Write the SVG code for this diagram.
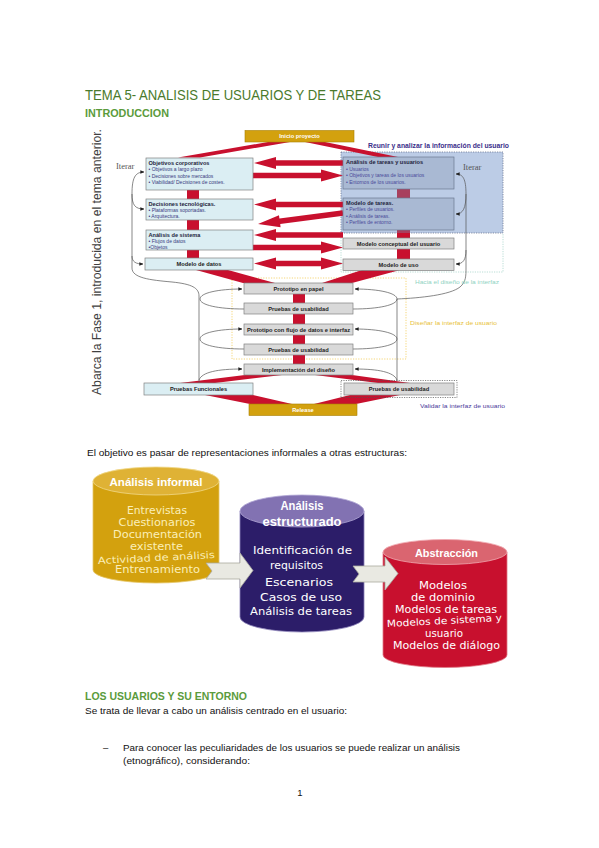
<svg xmlns="http://www.w3.org/2000/svg" width="599" height="848" viewBox="0 0 599 848">
<defs>
<style>
.pg{font-family:"Liberation Sans",Arial,sans-serif;fill:#111;font-size:9.5px}
.h1{font-family:"Liberation Sans",Arial,sans-serif;font-size:15.5px;fill:#4a7a2c}
.h2{font-family:"Liberation Sans",Arial,sans-serif;font-weight:bold;fill:#5b9b3c}
.bx{stroke:#808080;stroke-width:0.7}
.lb{fill:#dbeef3}
.gr{fill:#d9d9d9}
.rb{fill:#a9b9d3;stroke:#6c7890;stroke-width:0.7}
.gd{fill:#d3a10e;stroke:#a87f00;stroke-width:0.6}
.t{font-family:"Liberation Sans",Arial,sans-serif;font-size:5.6px}
.th{font-weight:bold;fill:#1e1e3c}
.tb{fill:#3a3a80;font-size:5px}
.tr{fill:#4a4a9a;font-size:5px}
.tc{font-weight:bold;fill:#222;text-anchor:middle;font-size:5.7px}
.tw{font-weight:bold;fill:#fff;text-anchor:middle;font-size:5.7px}
.red{fill:#c8102e}
.cv{fill:none;stroke:#555;stroke-width:0.7}
.cy{font-family:"DejaVu Sans",Verdana,sans-serif;text-anchor:middle}
.ct{font-family:"Liberation Sans",Arial,sans-serif;font-weight:bold;fill:#fff;text-anchor:middle}
.sm{font-family:"Liberation Sans",Arial,sans-serif;font-size:6px}
.it{font-family:"Liberation Serif","Times New Roman",serif;font-size:8.5px;fill:#555}
.blk{fill:#e9e9e2;stroke:#aaa9a0;stroke-width:0.8}
</style>
<marker id="ah" viewBox="0 0 6 6" refX="5.5" refY="3" markerWidth="4" markerHeight="4" markerUnits="userSpaceOnUse" orient="auto"><path d="M0,0.5 L6,3 L0,5.5 z" fill="#222"/></marker>
</defs>
<rect x="0" y="0" width="599" height="848" fill="#fff"/>

<!-- page headings -->
<text class="h1" x="85" y="100" textLength="296" lengthAdjust="spacingAndGlyphs">TEMA 5- ANALISIS DE USUARIOS Y DE TAREAS</text>
<text class="h2" x="85" y="117.3" font-size="10.5" textLength="84" lengthAdjust="spacingAndGlyphs">INTRODUCCION</text>

<!-- vertical caption -->
<text x="0" y="0" transform="translate(100.5,395) rotate(-90)" font-family="Liberation Sans,Arial,sans-serif" font-size="12" fill="#404040" textLength="266" lengthAdjust="spacingAndGlyphs">Abarca la Fase 1, introducida en el tema anterior.</text>

<!-- regions -->
<g id="region-usuario">
<rect x="341" y="152" width="162" height="81" fill="#bccce6" stroke="#6a7590" stroke-width="0.8" stroke-dasharray="1.2,1.2"/>
<path d="M341,233 L341,272 L503,272 L503,233" fill="none" stroke="#a8d6cc" stroke-width="0.8" stroke-dasharray="1.2,1.2"/>
<text x="368" y="148" font-family="Liberation Sans,Arial,sans-serif" font-weight="bold" font-size="6.3" fill="#3b2e8a" textLength="141" lengthAdjust="spacingAndGlyphs">Reunir y analizar la información  del usuario</text>
</g>
<g id="region-disenar">
<rect x="232" y="278" width="174" height="81" fill="none" stroke="#f2cc55" stroke-width="0.8" stroke-dasharray="1.2,1.4"/>
</g>

<g id="connectors">
<!-- wedges -->
<polygon class="red" points="268,142 290,142 200,157.5 178,157.5"/>
<polygon class="red" points="305,142 325,142 398,157 378,157"/>
<polygon class="red" points="196,270 228,270 275,283 243,283"/>
<polygon class="red" points="362,270 400,270 352,283 322,283"/>
<polygon class="red" points="245,375 282,375 215,383 180,383"/>
<polygon class="red" points="315,375 352,375 410,383 378,383"/>
<polygon class="red" points="205,395 253,395 292,404 250,404"/>
<polygon class="red" points="350,395 400,395 356,404 314,404"/>
<!-- vertical links -->
<rect class="red" x="187" y="190" width="12" height="9"/>
<rect class="red" x="187" y="220" width="12" height="10"/>
<rect class="red" x="187" y="250" width="12" height="8"/>
<rect class="red" x="293" y="294" width="12" height="9"/>
<rect class="red" x="293" y="314" width="12" height="10"/>
<rect class="red" x="293" y="335" width="12" height="9"/>
<rect class="red" x="293" y="355" width="12" height="9"/>
<rect x="397" y="189" width="13" height="9" fill="#a8405e"/>
<rect x="397" y="230" width="13" height="3" fill="#a8405e"/>
<rect class="red" x="397" y="233" width="13" height="5"/>
<rect class="red" x="397" y="249" width="13" height="10"/>
<!-- block arrows -->
<polygon class="red" points="254,163 276,157 276,160.2 343,160.2 343,165.8 276,165.8 276,169"/>
<polygon class="red" points="343,175.5 321,169.5 321,172.7 253,172.7 253,178.3 321,178.3 321,181.5"/>
<polygon class="red" points="254,204.5 276,198.5 276,201.7 343,201.7 343,207.3 276,207.3 276,210.5"/>
<polygon class="red" points="258,224 279,215.2 279.4,218.4 342.6,210.2 343.4,215.8 280.2,224 280.6,227.2"/>
<polygon class="red" points="254,235 276,229 276,232.2 343,232.2 343,237.8 276,237.8 276,241"/>
<polygon class="red" points="343,247.5 321,241.5 321,244.7 253,244.7 253,250.3 321,250.3 321,253.5"/>
<polygon class="red" points="254,263.5 276,257.5 276,260.7 321,260.7 321,257.5 343,263.5 321,269.5 321,266.3 276,266.3 276,269.5"/>
<!-- iteration curves left -->
<path class="cv" d="M132,194 C132,178 135,172 144,172" marker-end="url(#ah)"/>
<path class="cv" d="M132,194 C132,205 135,209 144,209" marker-end="url(#ah)"/>
<path class="cv" d="M132,194 L132,256 C132,262 136,264 143,264" marker-end="url(#ah)"/>
<path class="cv" d="M132,256 L132,268 C132,278 150,280 172,282 C192,284 199,288 199,296 L199,383"/>
<path class="cv" d="M244,309 C218,309 200,305 200,299 C200,293 218,289 242,289" marker-end="url(#ah)"/>
<path class="cv" d="M244,349 C218,349 200,345 200,339 C200,333 218,329 242,329" marker-end="url(#ah)"/>
<path class="cv" d="M199,380 C202,372 218,369 242,369" marker-end="url(#ah)"/>
<!-- iteration curves right -->
<path class="cv" d="M353,309 C379,309 397,305 397,299 C397,293 379,289 355,289" marker-end="url(#ah)"/>
<path class="cv" d="M353,349 C379,349 397,345 397,339 C397,333 379,329 355,329" marker-end="url(#ah)"/>
<path class="cv" d="M397,380 C394,372 378,369 355,369" marker-end="url(#ah)"/>
<path class="cv" d="M397,381 L397,299"/>
<path class="cv" d="M397,299 C420,298 450,295 460,287 C466,282 466,276 466,268 L466,194"/>
<path class="cv" d="M466,194 C466,179 463,174 456,174" marker-end="url(#ah)"/>
<path class="cv" d="M466,194 C466,208 463,214 456,214" marker-end="url(#ah)"/>
<path class="cv" d="M466,250 C466,260 463,264 456,264" marker-end="url(#ah)"/>
</g>

<!-- nodes: top diagram -->
<g id="n-inicio"><rect class="gd" x="245" y="130.5" width="109" height="11.5"/><text class="t tw" x="299.5" y="138.3">Inicio proyecto</text></g>
<g id="n-objetivos"><rect class="bx lb" x="146" y="158" width="107" height="32"/>
<text class="t th" x="148.5" y="164.5">Objetivos corporativos</text>
<text class="t tb" x="148.5" y="171">• Objetivos a largo plazo</text>
<text class="t tb" x="148.5" y="177.5">• Decisiones sobre mercados</text>
<text class="t tb" x="148.5" y="184">• Viabilidad/  Decisiones de costes.</text></g>
<g id="n-decisiones"><rect class="bx lb" x="146" y="199" width="107" height="21"/>
<text class="t th" x="148.5" y="205.5">Decisiones tecnológicas.</text>
<text class="t tb" x="148.5" y="212">• Plataformas soportadas.</text>
<text class="t tb" x="148.5" y="218">• Arquitectura.</text></g>
<g id="n-sistema"><rect class="bx lb" x="146" y="230" width="107" height="20"/>
<text class="t th" x="148.5" y="236.5">Análisis de sistema</text>
<text class="t tb" x="148.5" y="242.8">• Flujos de datos</text>
<text class="t tb" x="148.5" y="248.5">•Objetos</text></g>
<g id="n-datos"><rect class="bx lb" x="145" y="258" width="108" height="12"/><text class="t tc" x="199" y="266.2">Modelo de datos</text></g>
<g id="n-tareas-usuarios"><rect class="rb" x="343" y="157" width="111" height="32"/>
<text class="t th" x="346" y="164.3" font-size="5.3">Análisis de tareas y usuarios</text>
<text class="t tr" x="346" y="170.5">• Usuarios</text>
<text class="t tr" x="346" y="177">• Objetivos y tareas de los usuarios</text>
<text class="t tr" x="346" y="183.5">• Entornos de los usuarios.</text></g>
<g id="n-modelo-tareas"><rect class="rb" x="343" y="198" width="111" height="32"/>
<text class="t th" x="346" y="204.5" font-size="5.3">Modelo de tareas.</text>
<text class="t tr" x="346" y="211">• Perfiles de usuarios.</text>
<text class="t tr" x="346" y="217.5">• Análisis de tareas.</text>
<text class="t tr" x="346" y="224">• Perfiles de entorno.</text></g>
<g id="n-conceptual"><rect class="bx gr" x="343" y="238" width="111" height="11"/><text class="t tc" x="398.5" y="245.6">Modelo conceptual del usuario</text></g>
<g id="n-uso"><rect class="bx gr" x="343" y="259" width="111" height="11.5"/><text class="t tc" x="398.5" y="266.8">Modelo de uso</text></g>
<g id="n-proto-papel"><rect class="bx gr" x="244" y="283" width="109" height="11"/><text class="t tc" x="298.5" y="290.6">Prototipo en papel</text></g>
<g id="n-pruebas-1"><rect class="bx gr" x="244" y="303" width="109" height="11"/><text class="t tc" x="298.5" y="310.6">Pruebas de usabilidad</text></g>
<g id="n-proto-flujo"><rect class="bx gr" x="244" y="324" width="109" height="11"/><text class="t tc" x="298.5" y="331.6" textLength="103" lengthAdjust="spacingAndGlyphs">Prototipo con flujo de datos e interfaz</text></g>
<g id="n-pruebas-2"><rect class="bx gr" x="244" y="344" width="109" height="11"/><text class="t tc" x="298.5" y="351.6">Pruebas de usabilidad</text></g>
<g id="n-implementacion"><rect class="bx gr" x="244" y="364" width="109" height="11"/><text class="t tc" x="298.5" y="371.6">Implementación del diseño</text></g>
<g id="n-funcionales"><rect class="bx lb" x="144" y="383" width="109" height="12"/><text class="t tc" x="198.5" y="391.2">Pruebas Funcionales</text></g>
<g id="n-pruebas-usab"><rect x="341" y="380.5" width="116" height="17" fill="none" stroke="#555" stroke-width="0.7" stroke-dasharray="1.2,1.2"/><rect class="bx gr" x="344" y="383" width="110" height="12"/><text class="t tc" x="399" y="391.2">Pruebas de usabilidad</text></g>
<g id="n-release"><rect class="gd" x="249" y="404" width="108" height="11.5"/><text class="t tw" x="303" y="412">Release</text></g>

<!-- labels -->
<text class="it" x="116" y="169">Iterar</text>
<text class="it" x="463" y="170">Iterar</text>
<text class="sm" x="415" y="283.5" fill="#8fd3c3" textLength="84" lengthAdjust="spacingAndGlyphs">Hacia el diseño  de la interfaz</text>
<text class="sm" x="410" y="325" fill="#e8bf3a" font-size="6.4" textLength="87" lengthAdjust="spacingAndGlyphs">Diseñar la interfaz de usuario</text>
<text class="sm" x="420" y="408" fill="#4b3b9b" font-size="6.4" textLength="85" lengthAdjust="spacingAndGlyphs">Validar la interfaz de usuario</text>

<!-- intro sentence -->
<text class="pg" x="87" y="455.5" textLength="320" lengthAdjust="spacingAndGlyphs">El objetivo es pasar de representaciones informales a otras estructuras:</text>

<!-- cylinders -->
<g id="cyl-informal">
<path d="M93,481 L93,570 A63,13 0 0 0 219,570 L219,481 Z" fill="#d3a10e" stroke="#e6c768" stroke-width="0.8"/>
<ellipse cx="156" cy="481" rx="63" ry="14" fill="#dfb235" stroke="#f0d888" stroke-width="0.8"/>
<text class="ct" x="156" y="486" font-size="11.6" textLength="93" lengthAdjust="spacingAndGlyphs">Análisis informal</text>
<g class="cy" fill="#fbefb8" font-size="9.6">
<text x="157" y="514" textLength="60" lengthAdjust="spacingAndGlyphs">Entrevistas</text>
<text x="157" y="525.5" textLength="77" lengthAdjust="spacingAndGlyphs">Cuestionarios</text>
<text x="157.5" y="537.5" textLength="89" lengthAdjust="spacingAndGlyphs">Documentación</text>
<text x="156.5" y="550" textLength="53" lengthAdjust="spacingAndGlyphs">existente</text>
<text x="156.5" y="561" transform="rotate(-3 156.5 561)" textLength="117" lengthAdjust="spacingAndGlyphs">Actividad de análisis</text>
<text x="157.5" y="573" textLength="85" lengthAdjust="spacingAndGlyphs">Entrenamiento</text>
</g>
</g>
<g id="cyl-estructurado">
<path d="M240,511 L240,617 A62,15 0 0 0 364,617 L364,511 Z" fill="#2c1d69" stroke="#8a80b8" stroke-width="0.8"/>
<ellipse cx="302" cy="511" rx="62" ry="16" fill="#8272b2" stroke="#b0a6d4" stroke-width="0.8"/>
<text class="ct" x="302" y="509.5" font-size="12" textLength="43" lengthAdjust="spacingAndGlyphs">Análisis</text>
<text class="ct" x="302" y="526" font-size="12" textLength="79" lengthAdjust="spacingAndGlyphs">estructurado</text>
<g class="cy" fill="#fff" font-size="11.2">
<text x="302.5" y="553.5" textLength="99" lengthAdjust="spacingAndGlyphs">Identificación de</text>
<text x="296.5" y="569" textLength="53" lengthAdjust="spacingAndGlyphs">requisitos</text>
<text x="299" y="585.5" textLength="68" lengthAdjust="spacingAndGlyphs">Escenarios</text>
<text x="301" y="600.5" textLength="82" lengthAdjust="spacingAndGlyphs">Casos de uso</text>
<text x="301" y="615" textLength="102" lengthAdjust="spacingAndGlyphs">Análisis de tareas</text>
</g>
</g>
<g id="cyl-abstraccion">
<path d="M383,552 L383,655 A62,12.5 0 0 0 507,655 L507,552 Z" fill="#c8102e" stroke="#e07a86" stroke-width="0.8"/>
<ellipse cx="445" cy="552" rx="62" ry="12.5" fill="#da6570" stroke="#f0a8b0" stroke-width="0.8"/>
<text class="ct" x="446.5" y="557" font-size="11" textLength="63" lengthAdjust="spacingAndGlyphs">Abstracción</text>
<g class="cy" fill="#fff" font-size="9.6">
<text x="443" y="589" textLength="48" lengthAdjust="spacingAndGlyphs">Modelos</text>
<text x="443" y="601" textLength="64" lengthAdjust="spacingAndGlyphs">de dominio</text>
<text x="446" y="612.5" textLength="102" lengthAdjust="spacingAndGlyphs">Modelos de tareas</text>
<text x="444.5" y="624" transform="rotate(-3 444.5 624)" textLength="115" lengthAdjust="spacingAndGlyphs">Modelos de sistema y</text>
<text x="444" y="637" textLength="38" lengthAdjust="spacingAndGlyphs">usuario</text>
<text x="446.5" y="648.5" textLength="107" lengthAdjust="spacingAndGlyphs">Modelos de diálogo</text>
</g>
</g>
<g id="flow-arrows">
<polygon class="blk" points="206,563 240,563 240,553 253,570.5 240,588 240,579 206,579 212,571"/>
<polygon class="blk" points="353,566 385,566 385,557 398,573.5 385,590 385,582 353,582 359,574"/>
</g>

<!-- lower page text -->
<text class="h2" x="85" y="699.5" font-size="11.5" textLength="162" lengthAdjust="spacingAndGlyphs">LOS USUARIOS Y SU ENTORNO</text>
<text class="pg" x="85" y="713.5" textLength="262" lengthAdjust="spacingAndGlyphs">Se trata de llevar a cabo un análisis centrado en el usuario:</text>
<text class="pg" x="103" y="750.5">–</text>
<text class="pg" x="123" y="750.5" textLength="337" lengthAdjust="spacingAndGlyphs">Para conocer las peculiaridades de los usuarios se puede realizar un análisis</text>
<text class="pg" x="123" y="763.5" textLength="127" lengthAdjust="spacingAndGlyphs">(etnográfico), considerando:</text>
<text class="pg" x="300" y="796" fill="#4f7fc0" text-anchor="middle">1</text>
</svg>
